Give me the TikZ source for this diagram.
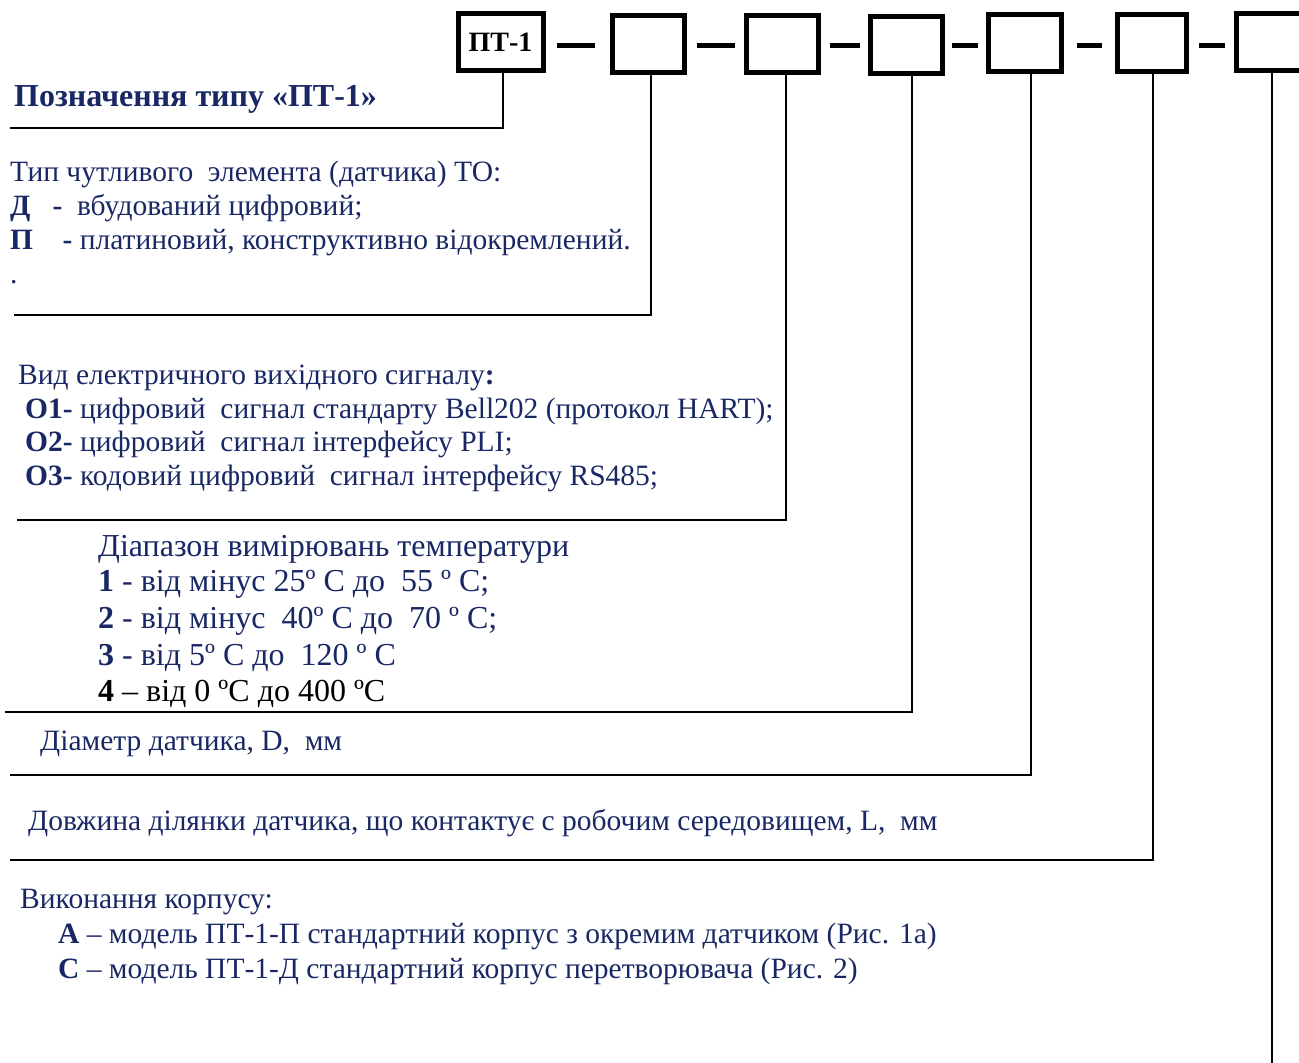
\documentclass[tikz,border=0pt]{standalone}
\usepackage{fontspec}
\setmainfont{Liberation Serif}
\usetikzlibrary{positioning}
\definecolor{navy}{RGB}{25,40,100}

\tikzset{
  codebox/.style={draw, line width=5pt, minimum width=#1, minimum height=57pt, inner sep=0pt},
  codebox/.default=72pt,
  joinbar/.style={line width=5pt},
  leader/.style={line width=2.5pt},
  txt/.style={anchor=base west, inner sep=0pt, text=navy, font=\fontsize{29.5}{34}\selectfont},
  bigtxt/.style={txt, font=\fontsize{32}{37}\selectfont},
}

\begin{document}
\begin{tikzpicture}[x=1pt, y=-1pt]
\useasboundingbox (0,0) rectangle (1299,1063);

% code boxes
\node[codebox=85pt, font=\fontsize{28}{32}\selectfont\bfseries] (b1) at (500.5,42) {ПТ-1};
\node[codebox] (b2) at (648,43.5) {};
\node[codebox] (b3) at (782,43.5) {};
\node[codebox] (b4) at (906,44.5) {};
\node[codebox=73pt] (b5) at (1024.5,43) {};
\node[codebox=69pt] (b6) at (1151.5,42.5) {};
\node[codebox=80pt] (b7) at (1276,42) {};

% dashes between boxes
\draw[joinbar] (557,45) -- (595,45);
\draw[joinbar] (697,45) -- (735,45);
\draw[joinbar] (830,45) -- (860,45);
\draw[joinbar] (952,45) -- (978,45);
\draw[joinbar] (1077,45) -- (1102,45);
\draw[joinbar] (1199,45) -- (1225,45);

% leader lines
\coordinate (l1) at (10,128);
\coordinate (l2) at (14,315);
\coordinate (l3) at (17,520);
\coordinate (l4) at (5,712);
\coordinate (l5) at (10,775);
\coordinate (l6) at (10,860);
\coordinate (l7) at (1272,1063);
\draw[leader] ([xshift=2.5pt]b1.south) |- (l1);
\draw[leader] ([xshift=3pt]b2.south) |- (l2);
\draw[leader] ([xshift=4pt]b3.south) |- (l3);
\draw[leader] ([xshift=6pt]b4.south) |- (l4);
\draw[leader] ([xshift=6.5pt]b5.south) |- (l5);
\draw[leader] ([xshift=1.5pt]b6.south) |- (l6);
\draw[leader] (b7.south -| l7) -- (l7);

% title
\node[txt, font=\fontsize{32}{37}\selectfont\bfseries] (title) at (14,106) {Позначення типу «ПТ-1»};

% sensor type
\node[txt] (s0) at (10,181) {Тип чутливого\ \ элемента (датчика) ТО:};
\node[txt] (s1) at (10,215) {\textbf{Д}\ \ \ \textbf{-}\ \ вбудований цифровий;};
\node[txt] (s2) at (10,249) {\textbf{П}\ \ \ \ \textbf{-} платиновий, конструктивно відокремлений.};
\node[txt] (s3) at (10,283) {.};

% output signal
\node[txt] (o0) at (18,384) {Вид електричного вихідного сигналу\textbf{:}};
\node[txt] (o1) at (25,418) {\textbf{О1-} цифровий\ \ сигнал стандарту Bell202 (протокол HART);};
\node[txt] (o2) at (25,451) {\textbf{О2-} цифровий\ \ сигнал інтерфейсу PLI;};
\node[txt] (o3) at (25,485) {\textbf{О3-} кодовий цифровий\ \ сигнал інтерфейсу RS485;};

% temperature range
\node[bigtxt] (t0) at (98,556) {Діапазон вимірювань температури};
\node[bigtxt] (t1) at (98,591) {\textbf{1} - від мінус 25º C до\ \ 55 º C;};
\node[bigtxt] (t2) at (98,628) {\textbf{2} - від мінус\ \ 40º C до\ \ 70 º C;};
\node[bigtxt] (t3) at (98,665) {\textbf{3} - від 5º C до\ \ 120 º C};
\node[bigtxt, text=black] (t4) at (98,701) {\textbf{4} – від 0 ºC до 400 ºC};

% diameter, length
\node[txt] (d0) at (40,750) {Діаметр датчика, D,\ \ мм};
\node[txt] (n0) at (28,830) {Довжина ділянки датчика, що контактує с робочим середовищем, L,\ \ мм};

% housing
\node[txt] (h0) at (20,908) {Виконання корпусу:};
\node[txt] (h1) at (58,943) {\textbf{А} – модель ПТ-1-П стандартний корпус з окремим датчиком (Рис. 1а)};
\node[txt] (h2) at (58,978) {\textbf{С} – модель ПТ-1-Д стандартний корпус перетворювача (Рис. 2)};
\end{tikzpicture}
\end{document}
